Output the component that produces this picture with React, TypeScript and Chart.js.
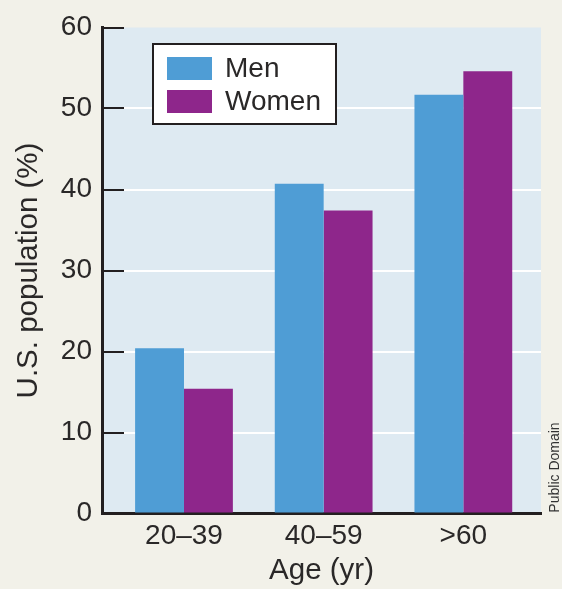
import React, { useEffect, useRef } from 'react';
import { Chart, registerables } from 'chart.js';

Chart.register(...registerables);

// ---- Data ----
const categories = ['20–39', '40–59', '>60'];
const seriesLabels = ['Men', 'Women'];
const menValues = [20.4, 40.7, 51.7];
const womenValues = [15.4, 37.4, 54.6];
const yMin = 0;
const yMax = 60;
const yStep = 10;
const xTitle = 'Age (yr)';
const yTitle = 'U.S. population (%)';
const creditText = 'Public Domain';

// ---- Styles ----
const BG = '#f2f1e9';
const PLOT_BG = '#deeaf2';
const MEN = '#4f9dd5';
const WOMEN = '#8e268b';
const INK = '#231f20';
const TEXT = '#2a2828';
const FONT = '"Liberation Sans", Arial, Helvetica, sans-serif';

export default function App() {
  const ref = useRef<HTMLCanvasElement>(null);

  useEffect(() => {
    if (!ref.current) return;

    const plotBg = {
      id: 'plotBg',
      beforeDraw(chart: any) {
        const { ctx, chartArea } = chart;
        const { left, top, right, bottom } = chartArea;
        ctx.save();
        ctx.fillStyle = PLOT_BG;
        ctx.fillRect(left, top, right - left, bottom - top);
        ctx.restore();
      },
    };

    const legendBox = {
      id: 'legendBox',
      afterDraw(chart: any) {
        const { ctx, chartArea } = chart;
        const bx = chartArea.left + 50;
        const by = chartArea.top + 15.5;
        const bw = 185;
        const bh = 82;
        ctx.save();
        ctx.fillStyle = '#ffffff';
        ctx.fillRect(bx, by, bw, bh);
        ctx.strokeStyle = INK;
        ctx.lineWidth = 2;
        ctx.strokeRect(bx + 1, by + 1, bw - 2, bh - 2);
        chart.data.datasets.forEach((ds: any, i: number) => {
          const sy = by + 14 + i * 33;
          ctx.fillStyle = ds.backgroundColor;
          ctx.fillRect(bx + 15, sy, 45, 23);
          ctx.fillStyle = TEXT;
          ctx.font = `28px ${FONT}`;
          ctx.textBaseline = 'middle';
          ctx.textAlign = 'left';
          ctx.fillText(ds.label, bx + 73, sy + 12.5);
        });
        ctx.restore();
      },
    };

    const credit = {
      id: 'credit',
      afterDraw(chart: any) {
        const { ctx, chartArea } = chart;
        ctx.save();
        ctx.translate(chartArea.right + 14, chartArea.bottom - 46);
        ctx.rotate(-Math.PI / 2);
        ctx.fillStyle = '#333333';
        ctx.font = `14px "Liberation Sans Narrow", ${FONT}`;
        ctx.textAlign = 'center';
        ctx.textBaseline = 'middle';
        ctx.fillText(creditText, 0, 0);
        ctx.restore();
      },
    };

    const tickFont = { family: FONT, size: 28 };
    const titleFont = { family: FONT, size: 29.5 };

    const chart = new Chart(ref.current, {
      type: 'bar',
      data: {
        datasets: [
          {
            label: seriesLabels[0],
            data: menValues.map((v, i) => ({ x: i, y: v })),
            backgroundColor: MEN,
            borderWidth: 0,
            categoryPercentage: 0.7,
            barPercentage: 1,
          },
          {
            label: seriesLabels[1],
            data: womenValues.map((v, i) => ({ x: i, y: v })),
            backgroundColor: WOMEN,
            borderWidth: 0,
            categoryPercentage: 0.7,
            barPercentage: 1,
          },
        ],
      },
      options: {
        responsive: false,
        animation: false,
        layout: { padding: { top: 27.5, right: 21, left: 0, bottom: 0 } },
        plugins: {
          legend: { display: false },
          tooltip: { enabled: false },
        },
        scales: {
          x: {
            type: 'linear',
            offset: false,
            min: -0.587,
            max: 2.556,
            afterFit: (s: any) => {
              s.height = 75.5;
            },
            afterBuildTicks: (s: any) => {
              s.ticks = categories.map((_, i) => ({ value: i }));
            },
            ticks: {
              callback: (v: any) => categories[v] ?? '',
              font: tickFont,
              color: TEXT,
              padding: 6,
              maxRotation: 0,
              autoSkip: false,
            },
            grid: { display: false, drawTicks: false, offset: false },
            border: { display: true, color: INK, width: 3 },
            title: {
              display: true,
              text: xTitle,
              font: titleFont,
              color: TEXT,
              padding: { top: 0, bottom: 0 },
            },
          },
          y: {
            min: yMin,
            max: yMax,
            afterFit: (s: any) => {
              s.width = 102;
              s.paddingTop = 0;
              s.paddingBottom = 0;
            },
            ticks: {
              stepSize: yStep,
              font: tickFont,
              color: TEXT,
              padding: 32,
            },
            grid: {
              color: (ctx: any) =>
                ctx.tick && (ctx.tick.value === yMin || ctx.tick.value === yMax)
                  ? 'rgba(0,0,0,0)'
                  : '#ffffff',
              lineWidth: 2,
              drawTicks: true,
              tickLength: -22,
              tickColor: INK,
              tickWidth: 2,
            },
            border: { display: true, color: INK, width: 3 },
            title: {
              display: true,
              text: yTitle,
              font: titleFont,
              color: TEXT,
              padding: { top: 11, bottom: 0 },
            },
          },
        },
      } as any,
      plugins: [plotBg, legendBox, credit],
    });

    return () => chart.destroy();
  }, []);

  return (
    <div
      style={{
        position: 'fixed',
        left: 0,
        top: 0,
        width: 562,
        height: 589,
        background: BG,
      }}
    >
      <canvas ref={ref} width={562} height={589} style={{ display: 'block' }} />
    </div>
  );
}
